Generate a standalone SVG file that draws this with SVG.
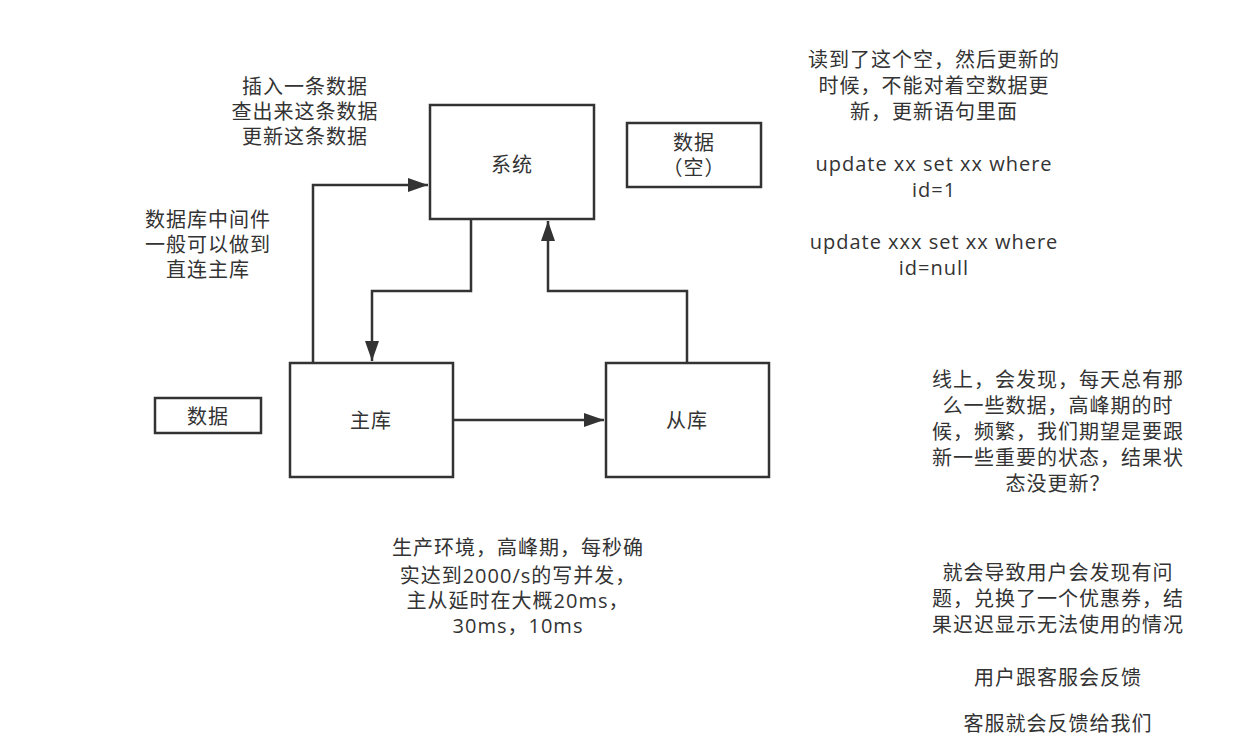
<svg xmlns="http://www.w3.org/2000/svg" width="1240" height="735" viewBox="0 0 1240 735">
<style>
text{font-family:"Open Sans","Noto Sans CJK SC",sans-serif;font-size:20px;letter-spacing:1px;fill:#333;text-anchor:middle}
.box{fill:#fff;stroke:#333;stroke-width:2.5}
.edge{fill:none;stroke:#333;stroke-width:2.5}
</style>
<defs>
<marker id="arr" viewBox="0 0 20 14" refX="20" refY="7" markerWidth="20" markerHeight="14" markerUnits="userSpaceOnUse" orient="auto">
<path d="M0,0 L20,7 L0,14 Z" fill="#333"/>
</marker>
</defs>
<rect width="1240" height="735" fill="#fff"/>
<g id="connectors">
<path class="edge" d="M313,363 V185 H428" marker-end="url(#arr)"/>
<path class="edge" d="M471,219 V291 H372 V361" marker-end="url(#arr)"/>
<path class="edge" d="M687,363 V291 H548 V221" marker-end="url(#arr)"/>
<path class="edge" d="M453,420 H604" marker-end="url(#arr)"/>
</g>
<g id="system"><rect class="box" x="430" y="105" width="164" height="114"/><text x="512" y="172">系统</text></g>
<g id="empty-data"><rect class="box" x="627" y="123" width="134" height="64"/><text x="694" y="150">数据</text><text x="694" y="175">（空）</text></g>
<g id="master"><rect class="box" x="290" y="363" width="163" height="114"/><text x="371" y="428">主库</text></g>
<g id="slave"><rect class="box" x="606" y="363" width="163" height="114"/><text x="687" y="428">从库</text></g>
<g id="data"><rect class="box" x="155" y="398" width="106" height="35"/><text x="208" y="424">数据</text></g>
<g id="note-ops">
<text x="305" y="94">插入一条数据</text>
<text x="305" y="119">查出来这条数据</text>
<text x="305" y="144">更新这条数据</text>
</g>
<g id="note-middleware">
<text x="208" y="227">数据库中间件</text>
<text x="208" y="252">一般可以做到</text>
<text x="208" y="277">直连主库</text>
</g>
<g id="note-update">
<text x="934" y="67">读到了这个空，然后更新的</text>
<text x="934" y="93">时候，不能对着空数据更</text>
<text x="934" y="119">新，更新语句里面</text>
<text x="934" y="171">update xx set xx where</text>
<text x="934" y="197">id=1</text>
<text x="934" y="249">update xxx set xx where</text>
<text x="934" y="275">id=null</text>
</g>
<g id="note-prod">
<text x="518" y="555">生产环境，高峰期，每秒确</text>
<text x="518" y="583">实达到2000/s的写并发，</text>
<text x="518" y="608">主从延时在大概20ms，</text>
<text x="518" y="633">30ms，10ms</text>
</g>
<g id="note-online">
<text x="1058" y="387">线上，会发现，每天总有那</text>
<text x="1058" y="413">么一些数据，高峰期的时</text>
<text x="1058" y="439">候，频繁，我们期望是要跟</text>
<text x="1058" y="465">新一些重要的状态，结果状</text>
<text x="1058" y="491">态没更新？</text>
<text x="1058" y="580">就会导致用户会发现有问</text>
<text x="1058" y="606">题，兑换了一个优惠券，结</text>
<text x="1058" y="632">果迟迟显示无法使用的情况</text>
<text x="1058" y="685">用户跟客服会反馈</text>
<text x="1058" y="731">客服就会反馈给我们</text>
</g>
</svg>
